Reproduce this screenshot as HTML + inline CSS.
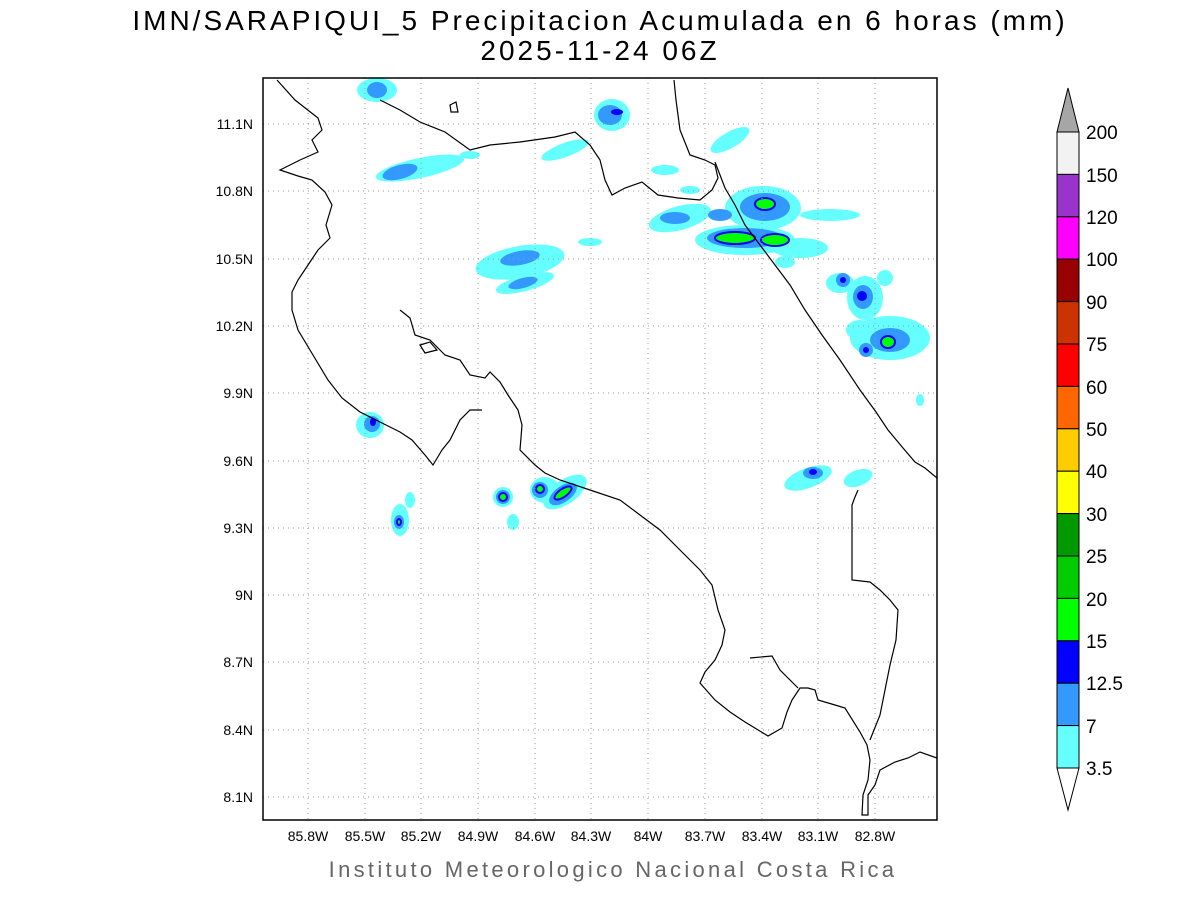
<!DOCTYPE html>
<html><head><meta charset="utf-8"><style>
html,body{margin:0;padding:0;background:#fff}
svg{display:block}
text{font-family:"Liberation Sans",sans-serif}
</style></head><body>
<svg width="1200" height="900" viewBox="0 0 1200 900" xmlns="http://www.w3.org/2000/svg">
<rect width="1200" height="900" fill="#fff"/>
<text x="600" y="30" font-size="28" text-anchor="middle" fill="#000" letter-spacing="3">IMN/SARAPIQUI_5 Precipitacion Acumulada en 6 horas (mm)</text>
<text x="600" y="60" font-size="28" text-anchor="middle" fill="#000" letter-spacing="3">2025-11-24 06Z</text>
<defs><clipPath id="c"><rect x="263" y="78" width="674" height="742"/></clipPath></defs>
<g clip-path="url(#c)">
<g fill="#66ffff">
<ellipse cx="377" cy="90" rx="20" ry="12"/>
<ellipse cx="612" cy="115" rx="18" ry="16"/>
<ellipse cx="420" cy="168" rx="45" ry="10" transform="rotate(-12 420 168)"/>
<ellipse cx="470" cy="155" rx="10" ry="4"/>
<ellipse cx="565" cy="150" rx="25" ry="7" transform="rotate(-20 565 150)"/>
<ellipse cx="730" cy="140" rx="22" ry="8" transform="rotate(-30 730 140)"/>
<ellipse cx="665" cy="170" rx="14" ry="5"/>
<ellipse cx="690" cy="190" rx="10" ry="4"/>
<ellipse cx="520" cy="262" rx="45" ry="16" transform="rotate(-10 520 262)"/>
<ellipse cx="525" cy="283" rx="30" ry="8" transform="rotate(-15 525 283)"/>
<ellipse cx="590" cy="242" rx="12" ry="4"/>
<ellipse cx="680" cy="218" rx="32" ry="12" transform="rotate(-15 680 218)"/>
<ellipse cx="763" cy="208" rx="38" ry="22"/>
<ellipse cx="745" cy="240" rx="50" ry="15"/>
<ellipse cx="800" cy="248" rx="28" ry="10"/>
<ellipse cx="830" cy="215" rx="30" ry="6"/>
<ellipse cx="785" cy="262" rx="10" ry="6"/>
<ellipse cx="840" cy="283" rx="14" ry="10"/>
<ellipse cx="865" cy="298" rx="18" ry="22"/>
<ellipse cx="885" cy="278" rx="8" ry="8"/>
<ellipse cx="890" cy="338" rx="40" ry="22"/>
<ellipse cx="860" cy="330" rx="14" ry="10"/>
<ellipse cx="370" cy="425" rx="14" ry="13"/>
<ellipse cx="400" cy="520" rx="9" ry="16"/>
<ellipse cx="410" cy="500" rx="5" ry="8"/>
<ellipse cx="503" cy="497" rx="10" ry="10"/>
<ellipse cx="513" cy="522" rx="6" ry="8"/>
<ellipse cx="545" cy="490" rx="15" ry="13"/>
<ellipse cx="565" cy="492" rx="25" ry="12" transform="rotate(-35 565 492)"/>
<ellipse cx="808" cy="478" rx="25" ry="10" transform="rotate(-20 808 478)"/>
<ellipse cx="858" cy="478" rx="15" ry="8" transform="rotate(-20 858 478)"/>
<ellipse cx="920" cy="400" rx="4" ry="6"/>
</g>
<g fill="#3399ff">
<ellipse cx="377" cy="90" rx="10" ry="8"/>
<ellipse cx="610" cy="115" rx="12" ry="10"/>
<ellipse cx="400" cy="172" rx="18" ry="7" transform="rotate(-15 400 172)"/>
<ellipse cx="520" cy="258" rx="20" ry="7" transform="rotate(-10 520 258)"/>
<ellipse cx="523" cy="283" rx="15" ry="5" transform="rotate(-15 523 283)"/>
<ellipse cx="675" cy="218" rx="15" ry="6"/>
<ellipse cx="765" cy="207" rx="25" ry="14"/>
<ellipse cx="745" cy="238" rx="38" ry="10"/>
<ellipse cx="720" cy="215" rx="12" ry="6"/>
<ellipse cx="843" cy="280" rx="7" ry="7"/>
<ellipse cx="863" cy="297" rx="10" ry="12"/>
<ellipse cx="890" cy="340" rx="20" ry="12"/>
<ellipse cx="866" cy="350" rx="7" ry="7"/>
<ellipse cx="372" cy="424" rx="8" ry="8"/>
<ellipse cx="399" cy="522" rx="5" ry="7"/>
<ellipse cx="503" cy="497" rx="7" ry="7"/>
<ellipse cx="540" cy="490" rx="8" ry="8"/>
<ellipse cx="563" cy="494" rx="16" ry="8" transform="rotate(-35 563 494)"/>
<ellipse cx="813" cy="473" rx="10" ry="6"/>
</g>
<g fill="#00ff00" stroke="#0000ff" stroke-width="2">
<ellipse cx="735" cy="238" rx="20" ry="6"/>
<ellipse cx="775" cy="240" rx="14" ry="6"/>
<ellipse cx="765" cy="204" rx="10" ry="6"/>
<ellipse cx="888" cy="342" rx="7" ry="6"/>
<ellipse cx="503" cy="497" rx="4" ry="4"/>
<ellipse cx="563" cy="493" rx="10" ry="4" transform="rotate(-35 563 493)"/>
<ellipse cx="540" cy="489" rx="4" ry="4"/>
<ellipse cx="399" cy="522" rx="2" ry="3"/>
</g>
<g fill="#0000ff">
<ellipse cx="617" cy="112" rx="6" ry="3"/>
<ellipse cx="862" cy="296" rx="5" ry="5"/>
<ellipse cx="843" cy="280" rx="3" ry="3"/>
<ellipse cx="866" cy="350" rx="3" ry="3"/>
<ellipse cx="373" cy="422" rx="3" ry="4"/>
<ellipse cx="813" cy="472" rx="4" ry="3"/>
</g>
<g stroke="#999" stroke-width="1" stroke-dasharray="1,4">
<line x1="308" y1="78" x2="308" y2="820"/><line x1="365" y1="78" x2="365" y2="820"/><line x1="421" y1="78" x2="421" y2="820"/><line x1="478" y1="78" x2="478" y2="820"/><line x1="535" y1="78" x2="535" y2="820"/><line x1="591" y1="78" x2="591" y2="820"/><line x1="648" y1="78" x2="648" y2="820"/><line x1="705" y1="78" x2="705" y2="820"/><line x1="762" y1="78" x2="762" y2="820"/><line x1="818" y1="78" x2="818" y2="820"/><line x1="875" y1="78" x2="875" y2="820"/>
<line x1="263" y1="124" x2="937" y2="124"/><line x1="263" y1="191" x2="937" y2="191"/><line x1="263" y1="259" x2="937" y2="259"/><line x1="263" y1="326" x2="937" y2="326"/><line x1="263" y1="393" x2="937" y2="393"/><line x1="263" y1="461" x2="937" y2="461"/><line x1="263" y1="528" x2="937" y2="528"/><line x1="263" y1="595" x2="937" y2="595"/><line x1="263" y1="662" x2="937" y2="662"/><line x1="263" y1="730" x2="937" y2="730"/><line x1="263" y1="797" x2="937" y2="797"/>
</g>
<g fill="none" stroke="#000" stroke-width="1.2">
<polyline points="277,80 295,100 318,118 322,130 312,140 318,152 300,160 290,165 280,170 298,176 312,180 325,192 332,205 326,225 330,238 318,250 310,262 298,280 292,292 292,310 298,330 310,350 328,380 342,398 360,412 380,422 400,432 412,440 425,455 433,465 442,450 450,440 460,420 470,410 482,410"/>
<polyline points="400,310 410,318 415,335 430,340 445,355 460,360 470,375 485,378 490,372 500,382 508,395 518,410 522,425 520,450 535,465 545,473 560,480 590,490 620,500 640,515 660,530 680,550 700,570 712,585 718,610 725,630 722,645 715,660 705,672 700,683 715,700 730,712 745,722 768,736 782,728 787,712 792,700 800,688 808,688 815,690 818,700 835,705 845,708 860,732 867,745 870,760 868,780 863,795 862,815 868,815 868,795 875,785 880,770 895,762 908,758 920,752 937,758"/>
<polyline points="750,658 772,656 780,670 798,688"/>
<polyline points="937,478 925,468 915,462 903,448 888,430 876,412 860,390 840,360 822,335 805,310 790,285 775,265 760,245 745,225 735,205 725,188 720,175 715,162"/>
<polyline points="380,100 400,110 420,122 445,132 470,150 490,145 520,142 555,137 575,132 590,145 600,160 605,180 612,195 625,188 642,182 658,195 678,198 700,200 712,190 718,178 715,165 705,160 690,155 680,130 676,100 674,80"/>
<polyline points="858,490 855,497 852,505 852,580 870,582 880,590 890,600 898,610 896,640 890,665 885,690 880,715 870,740"/>
<polygon points="420,345 430,342 437,350 425,353"/>
<polygon points="450,105 456,102 458,112 451,112"/>
</g>
</g>
<rect x="263" y="78" width="674" height="742" fill="none" stroke="#000" stroke-width="1.5"/>
<g font-size="14" text-anchor="end" fill="#000">
<text x="253" y="129">11.1N</text><text x="253" y="196">10.8N</text><text x="253" y="264">10.5N</text><text x="253" y="331">10.2N</text><text x="253" y="398">9.9N</text><text x="253" y="466">9.6N</text><text x="253" y="533">9.3N</text><text x="253" y="600">9N</text><text x="253" y="667">8.7N</text><text x="253" y="735">8.4N</text><text x="253" y="802">8.1N</text>
</g>
<g font-size="14" text-anchor="middle" fill="#000">
<text x="308" y="841">85.8W</text><text x="365" y="841">85.5W</text><text x="421" y="841">85.2W</text><text x="478" y="841">84.9W</text><text x="535" y="841">84.6W</text><text x="591" y="841">84.3W</text><text x="648" y="841">84W</text><text x="705" y="841">83.7W</text><text x="762" y="841">83.4W</text><text x="818" y="841">83.1W</text><text x="875" y="841">82.8W</text>
</g>
<text x="613" y="877" font-size="22" text-anchor="middle" fill="#666" letter-spacing="3.3">Instituto Meteorologico Nacional Costa Rica</text>
<g stroke="#000" stroke-width="1">
<polygon points="1057,132 1068,88 1079,132" fill="#a6a6a6"/>
<rect x="1057" y="132" width="22" height="42.4" fill="#f2f2f2"/>
<rect x="1057" y="174.4" width="22" height="42.4" fill="#9933cc"/>
<rect x="1057" y="216.8" width="22" height="42.4" fill="#ff00ff"/>
<rect x="1057" y="259.2" width="22" height="42.4" fill="#990000"/>
<rect x="1057" y="301.6" width="22" height="42.4" fill="#cc3300"/>
<rect x="1057" y="344" width="22" height="42.4" fill="#ff0000"/>
<rect x="1057" y="386.4" width="22" height="42.4" fill="#ff6600"/>
<rect x="1057" y="428.8" width="22" height="42.4" fill="#ffcc00"/>
<rect x="1057" y="471.2" width="22" height="42.4" fill="#ffff00"/>
<rect x="1057" y="513.6" width="22" height="42.4" fill="#009900"/>
<rect x="1057" y="556" width="22" height="42.4" fill="#00cc00"/>
<rect x="1057" y="598.4" width="22" height="42.4" fill="#00ff00"/>
<rect x="1057" y="640.8" width="22" height="42.4" fill="#0000ff"/>
<rect x="1057" y="683.2" width="22" height="42.4" fill="#3399ff"/>
<rect x="1057" y="725.6" width="22" height="42.4" fill="#66ffff"/>
<polygon points="1057,768 1068,810 1079,768" fill="#fff"/>
</g>
<g font-size="19" fill="#000">
<text x="1086" y="139">200</text><text x="1086" y="182">150</text><text x="1086" y="224">120</text><text x="1086" y="266">100</text><text x="1086" y="309">90</text><text x="1086" y="351">75</text><text x="1086" y="394">60</text><text x="1086" y="436">50</text><text x="1086" y="478">40</text><text x="1086" y="521">30</text><text x="1086" y="563">25</text><text x="1086" y="606">20</text><text x="1086" y="648">15</text><text x="1086" y="690">12.5</text><text x="1086" y="733">7</text><text x="1086" y="775">3.5</text>
</g>
</svg>
</body></html>
